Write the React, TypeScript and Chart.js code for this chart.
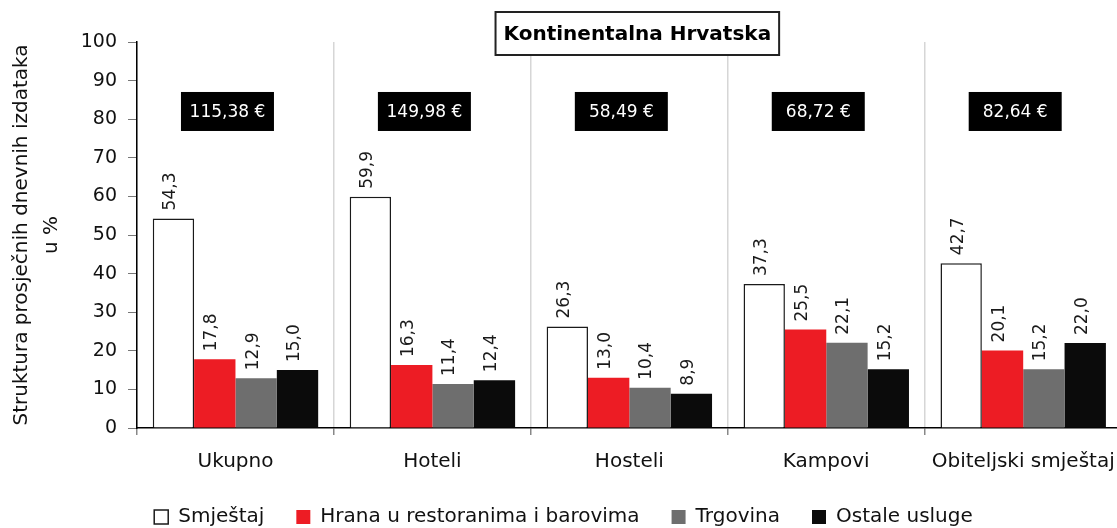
import React, { useEffect, useRef } from "react";
import { Chart, registerables } from "chart.js";

Chart.register(...registerables);

const categories = ["Ukupno", "Hoteli", "Hosteli", "Kampovi", "Obiteljski smještaj"];
const seriesNames = ["Smještaj", "Hrana u restoranima i barovima", "Trgovina", "Ostale usluge"];
const smjestaj = [54.3, 59.9, 26.3, 37.3, 42.7];
const hrana = [17.8, 16.3, 13.0, 25.5, 20.1];
const trgovina = [12.9, 11.4, 10.4, 22.1, 15.2];
const ostale = [15.0, 12.4, 8.9, 15.2, 22.0];
const prices = ["115,38 €", "149,98 €", "58,49 €", "68,72 €", "82,64 €"];
const priceLevel = 82;
const chartTitle = "Kontinentalna Hrvatska";
const yTitle = ["Struktura prosječnih dnevnih izdataka", "u %"];
const yMin = 0;
const yMax = 100;
const yStep = 10;

const FONT = "'DejaVu Sans', 'Noto Sans', sans-serif";

const fmt = (v: number) => v.toFixed(1).replace(".", ",");

const valueLabels = {
  id: "valueLabels",
  afterDatasetsDraw(chart: any) {
    const ctx = chart.ctx;
    ctx.save();
    ctx.font = `17px ${FONT}`;
    ctx.fillStyle = "#1a1a1a";
    chart.data.datasets.forEach((ds: any, di: number) => {
      const meta = chart.getDatasetMeta(di);
      meta.data.forEach((el: any, i: number) => {
        ctx.save();
        ctx.translate(el.x - 3, el.y - 8);
        ctx.rotate(-Math.PI / 2);
        ctx.textAlign = "left";
        ctx.textBaseline = "middle";
        ctx.fillText(fmt(ds.data[i]), 0, 0);
        ctx.restore();
      });
    });
    ctx.restore();
  },
};

const priceBoxes = {
  id: "priceBoxes",
  afterDatasetsDraw(chart: any) {
    const ctx = chart.ctx;
    const xs = chart.scales.x;
    const ys = chart.scales.y;
    ctx.save();
    ctx.font = `17px ${FONT}`;
    prices.forEach((p, i) => {
      const cx = xs.getPixelForValue(i) - 8;
      const cy = ys.getPixelForValue(priceLevel);
      const w = 93;
      const h = 39;
      ctx.fillStyle = "#000";
      ctx.fillRect(cx - w / 2, cy - h / 2, w, h);
      ctx.fillStyle = "#fff";
      ctx.textAlign = "center";
      ctx.textBaseline = "middle";
      ctx.fillText(p, cx, cy + 1);
    });
    ctx.restore();
  },
};

const titleBox = {
  id: "titleBox",
  afterDraw(chart: any) {
    const ctx = chart.ctx;
    const ca = chart.chartArea;
    ctx.save();
    ctx.font = `bold 20px ${FONT}`;
    const tw = ctx.measureText(chartTitle).width;
    const w = tw + 16;
    const h = 43;
    const cx = (ca.left + ca.right) / 2 + 8;
    const top = 12;
    ctx.fillStyle = "#fff";
    ctx.fillRect(cx - w / 2, top, w, h);
    ctx.strokeStyle = "#222";
    ctx.lineWidth = 2;
    ctx.strokeRect(cx - w / 2, top, w, h);
    ctx.fillStyle = "#000";
    ctx.textAlign = "center";
    ctx.textBaseline = "middle";
    ctx.fillText(chartTitle, cx, top + h / 2 + 1);
    ctx.restore();
  },
};

export default function App() {
  const ref = useRef<HTMLCanvasElement | null>(null);

  useEffect(() => {
    if (!ref.current) return;
    const chart = new Chart(ref.current, {
      type: "bar",
      data: {
        labels: categories,
        datasets: [
          {
            label: seriesNames[0],
            data: smjestaj,
            backgroundColor: "#ffffff",
            borderColor: "#1a1a1a",
            borderWidth: 1.5,
          },
          {
            label: seriesNames[1],
            data: hrana,
            backgroundColor: "#ed1c24",
            borderWidth: 0,
          },
          {
            label: seriesNames[2],
            data: trgovina,
            backgroundColor: "#6e6e6e",
            borderWidth: 0,
          },
          {
            label: seriesNames[3],
            data: ostale,
            backgroundColor: "#0b0b0b",
            borderWidth: 0,
          },
        ],
      },
      options: {
        animation: false,
        responsive: false,
        devicePixelRatio: 1,
        layout: { padding: { top: 42, right: 3, left: 0, bottom: -9 } },
        datasets: {
          bar: { barPercentage: 1.0, categoryPercentage: 0.84 },
        },
        plugins: {
          legend: {
            position: "bottom",
            labels: {
              font: { family: FONT, size: 20 },
              color: "#111",
              boxWidth: 14,
              boxHeight: 14,
              padding: 32,
            },
          },
          tooltip: { enabled: false },
          title: { display: false },
        },
        scales: {
          x: {
            grid: {
              offset: true,
              color: "#d6d6d6",
              lineWidth: 1.5,
              tickLength: 7,
              tickColor: "#888",
            },
            border: { color: "#000", width: 1.5 },
            ticks: {
              font: { family: FONT, size: 20 },
              color: "#111",
              padding: 15,
            },
            afterFit: (s: any) => {
              const lh = s.chart.legend ? s.chart.legend.height : 40;
              s.height = 528 - 428 - lh + 9;
            },
          },
          y: {
            min: yMin,
            max: yMax,
            ticks: {
              stepSize: yStep,
              font: { family: FONT, size: 19 },
              color: "#111",
              padding: 11,
            },
            grid: {
              drawOnChartArea: false,
              tickLength: 9,
              color: "#777",
            },
            border: { color: "#000", width: 1.5 },
            title: {
              display: true,
              text: yTitle,
              font: { family: FONT, size: 20, lineHeight: 1.5 },
              color: "#111",
              padding: { top: 7, bottom: 0 },
            },
            afterFit: (s: any) => {
              s.width = 137;
            },
          },
        },
      },
      plugins: [valueLabels, priceBoxes, titleBox],
    });
    return () => chart.destroy();
  }, []);

  return (
    <div
      style={{
        position: "absolute",
        left: 0,
        top: 0,
        width: 1117,
        height: 528,
        overflow: "hidden",
        background: "#fff",
      }}
    >
      <canvas ref={ref} width={1130} height={528} style={{ width: 1130, height: 528 }} />
    </div>
  );
}
